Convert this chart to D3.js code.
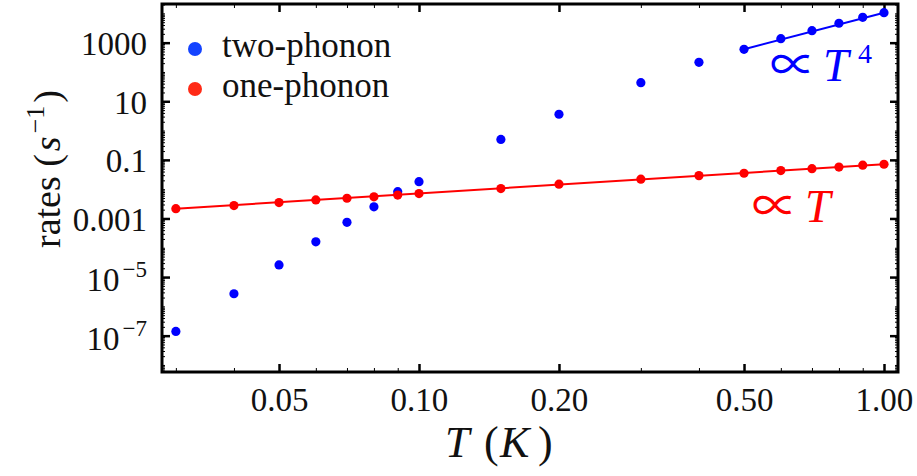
<!DOCTYPE html>
<html>
<head>
<meta charset="utf-8">
<script src="https://cdn.jsdelivr.net/npm/d3@7"></script>
<style>
  html, body { margin: 0; padding: 0; background: #fff; }
  svg { display: block; }
  text { font-family: "Liberation Serif", "DejaVu Serif", serif; fill: #111; }
</style>
</head>
<body>
<svg id="chart" width="917" height="476"></svg>
<script>
// ---- data ----
const temps = [0.03, 0.04, 0.05, 0.06, 0.07, 0.08, 0.09, 0.1, 0.15, 0.2, 0.3, 0.4, 0.5, 0.6, 0.7, 0.8, 0.9, 1.0];
const twoPhonon = [1.4e-7, 2.7e-6, 2.6e-5, 1.6e-4, 7.4e-4, 2.5e-3, 8.2e-3, 0.018, 0.5, 3.6, 43, 214, 595, 1370, 2570, 4600, 7360, 10570];
const onePhonon = [2.16e-3, 2.75e-3, 3.5e-3, 4.3e-3, 4.9e-3, 5.5e-3, 6.3e-3, 7.1e-3, 0.0105, 0.0148, 0.022, 0.029, 0.035, 0.043, 0.050, 0.057, 0.066, 0.071];
// fitted power-law guide lines (end points)
const fitOne = [[0.03, 2.16e-3], [1.0, 0.0715]];
const fitTwo = [[0.5, 600], [1.0, 10500]];
// ticks
const xMajorTicks = [0.05, 0.1, 0.2, 0.5, 1.0];
const xMajorLabels = ["0.05", "0.10", "0.20", "0.50", "1.00"];
const xMinorTicks = [0.03, 0.04, 0.06, 0.07, 0.08, 0.09, 0.3, 0.4, 0.6, 0.7, 0.8, 0.9];
const yMajorTicks = [1e3, 10, 0.1, 1e-3, 1e-5, 1e-7];
const yMajorLabels = ["1000", "10", "0.1", "0.001", "10^−5", "10^−7"];
const seriesNames = ["two-phonon", "one-phonon"];

// ---- layout ----
const L = 162, R = 898, Tp = 4, B = 372;
const svg = d3.select("#chart");

const x = d3.scaleLog().domain([0.02801, 1.0718]).range([L, R]);
const y = d3.scaleLog().domain([Math.pow(10, -8.24), Math.pow(10, 4.32)]).range([B, Tp]);

// y minor ticks: j*10^k for all decades, except majors
const yMinorTicks = [];
for (let k = -9; k <= 4; k++) {
  for (let j = 1; j <= 9; j++) {
    const v = j * Math.pow(10, k);
    const lv = Math.log10(v);
    if (lv < -8.24 || lv > 4.32) continue;
    if (yMajorTicks.some(m => Math.abs(Math.log10(m) - lv) < 1e-6)) continue;
    yMinorTicks.push(v);
  }
}

function styleAxis(g, w) {
  g.select(".domain").remove();
  g.selectAll(".tick line").attr("stroke", "#000").attr("stroke-width", w);
}

// minor ticks (all four sides)
svg.append("g").attr("transform", `translate(0,${B})`)
  .call(d3.axisBottom(x).tickValues(xMinorTicks).tickSize(-4).tickFormat(""))
  .call(g => styleAxis(g, 1));
svg.append("g").attr("transform", `translate(0,${Tp})`)
  .call(d3.axisTop(x).tickValues(xMinorTicks).tickSize(-4).tickFormat(""))
  .call(g => styleAxis(g, 1));
svg.append("g").attr("transform", `translate(${L},0)`)
  .call(d3.axisLeft(y).tickValues(yMinorTicks).tickSize(-3).tickFormat(""))
  .call(g => styleAxis(g, 1));
svg.append("g").attr("transform", `translate(${R},0)`)
  .call(d3.axisRight(y).tickValues(yMinorTicks).tickSize(-3).tickFormat(""))
  .call(g => styleAxis(g, 1));

// major ticks
const xAxis = svg.append("g").attr("transform", `translate(0,${B})`)
  .call(d3.axisBottom(x).tickValues(xMajorTicks).tickSize(-8).tickPadding(16)
    .tickFormat((d, i) => xMajorLabels[i]))
  .call(g => styleAxis(g, 2.5));
xAxis.selectAll("text").attr("font-size", 33).attr("fill", "#111")
  .style("font-family", "'Liberation Serif', serif");

svg.append("g").attr("transform", `translate(0,${Tp})`)
  .call(d3.axisTop(x).tickValues(xMajorTicks).tickSize(-8).tickFormat(""))
  .call(g => styleAxis(g, 2.5));
svg.append("g").attr("transform", `translate(${R},0)`)
  .call(d3.axisRight(y).tickValues(yMajorTicks).tickSize(-8).tickFormat(""))
  .call(g => styleAxis(g, 2.5));

const yAxis = svg.append("g").attr("transform", `translate(${L},0)`)
  .call(d3.axisLeft(y).tickValues(yMajorTicks).tickSize(-8).tickPadding(15)
    .tickFormat((d, i) => yMajorLabels[i]))
  .call(g => styleAxis(g, 2.5));
yAxis.selectAll("text").each(function () {
  const t = d3.select(this);
  const s = t.text();
  t.attr("font-size", 33).attr("fill", "#111").style("font-family", "'Liberation Serif', serif");
  if (s.includes("^")) {
    const [base, ex] = s.split("^");
    t.text(null).attr("dy", "0.42em");
    t.append("tspan").text(base);
    t.append("tspan").text(ex).attr("font-size", 23).attr("dy", -14).attr("dx", 3);
  } else {
    t.attr("dy", "0.36em");
  }
});

// frame
svg.append("rect").attr("x", L).attr("y", Tp).attr("width", R - L).attr("height", B - Tp)
  .attr("fill", "none").attr("stroke", "#000").attr("stroke-width", 3);

// ---- marks ----
const line = d3.line().x(d => x(d[0])).y(d => y(d[1]));
const blue = "#0000ff", red = "#ff0000";

svg.append("path").attr("d", line(fitTwo)).attr("fill", "none")
  .attr("stroke", blue).attr("stroke-width", 2);
svg.append("g").selectAll("circle").data(temps).join("circle")
  .attr("cx", d => x(d)).attr("cy", (d, i) => y(twoPhonon[i])).attr("r", 4.6)
  .attr("fill", blue);

svg.append("path").attr("d", line(fitOne)).attr("fill", "none")
  .attr("stroke", red).attr("stroke-width", 2);
svg.append("g").selectAll("circle").data(temps).join("circle")
  .attr("cx", d => x(d)).attr("cy", (d, i) => y(onePhonon[i])).attr("r", 4.6)
  .attr("fill", red);

// ---- legend ----
const legColors = ["#1443ff", "#ff2a16"];
const leg = svg.append("g");
seriesNames.forEach((n, i) => {
  leg.append("circle").attr("cx", 195).attr("cy", 49 + i * 40).attr("r", 7).attr("fill", legColors[i]);
  leg.append("text").attr("x", 222).attr("y", 57 + i * 40).attr("font-size", 35).text(n);
});

// ---- annotations ----
function propTo(xp, yp, color, sup) {
  const g = svg.append("g");
  g.append("text").attr("x", xp + 16).attr("y", yp).attr("font-size", 46)
    .attr("text-anchor", "middle")
    .style("font-family", "'Noto Sans CJK JP', 'DejaVu Serif', serif").style("fill", color).text("∝");
  g.append("text").attr("x", xp + 46).attr("y", yp).attr("font-size", 46)
    .attr("font-style", "italic").style("fill", color).text("T");
  if (sup) {
    g.append("text").attr("x", xp + 81).attr("y", yp - 18).attr("font-size", 28)
      .style("fill", color).text(sup);
  }
}
propTo(777, 81, blue, "4");
propTo(759, 222, red, null);

// ---- axis titles ----
const xtParts = [["T", "italic", 445], ["(", "normal", 484], ["K", "italic", 500], [")", "normal", 538]];
const xt = svg.append("text").attr("y", 457).attr("font-size", 44);
xtParts.forEach(p => xt.append("tspan").attr("x", p[2]).attr("font-style", p[1]).text(p[0]));

const yt = svg.append("text").attr("transform", "translate(60,169) rotate(-90)")
  .attr("text-anchor", "middle").attr("font-size", 38);
yt.append("tspan").text("rates (");
yt.append("tspan").text("s").attr("font-style", "italic").attr("dx", 3);
yt.append("tspan").text("−1").attr("font-size", 26).attr("dy", -16).attr("dx", 3);
yt.append("tspan").text(")").attr("dy", 16).attr("dx", 3);
</script>
</body>
</html>
